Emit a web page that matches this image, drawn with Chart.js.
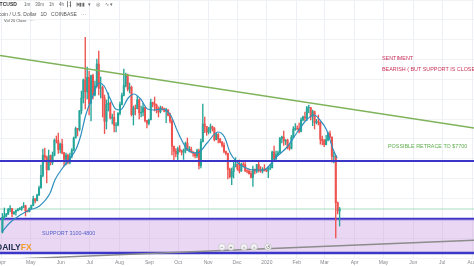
<!DOCTYPE html>
<html>
<head>
<meta charset="utf-8">
<title>BTCUSD daily</title>
<script src="https://cdn.jsdelivr.net/npm/chart.js@4.4.1/dist/chart.umd.min.js"></script>
<style>
  html, body { margin: 0; padding: 0; background: #fff; overflow: hidden; }
  canvas { display: block; }
</style>
</head>
<body>
<canvas id="chart" width="474" height="266"></canvas>
<script>
// time axis
const viewStart = '2019-03-30';
const viewEnd = '2020-08-03';
const monthStarts = ['2019-04-01', '2019-05-01', '2019-06-01', '2019-07-01', '2019-08-01', '2019-09-01',
    '2019-10-01', '2019-11-01', '2019-12-01', '2020-01-01', '2020-02-01', '2020-03-01', '2020-04-01',
    '2020-05-01', '2020-06-01', '2020-07-01', '2020-08-01'];
const monthLabels = ['Apr', 'May', 'Jun', 'Jul', 'Aug', 'Sep', 'Oct', 'Nov', 'Dec', '2020',
    'Feb', 'Mar', 'Apr', 'May', 'Jun', 'Jul', 'Aug'];

// candles, 2 days each, from 1 Apr 2019 (open = previous close)
const firstCandle = '2019-04-01';
const candleSpan = 2;
const firstOpen = 4140;
const closes = [4880, 4950, 5040, 5280, 5320, 5070, 5150, 5220, 5290, 5320, 5390, 5460, 5200, 5180, 5330,
    5470, 5800, 5720, 5990, 6350, 6980, 7990, 7880, 7260, 7960, 7620, 7990, 8740, 8720, 8270,
    8550, 8110, 7780, 7990, 7630, 7930, 8240, 8850, 9330, 9270, 10210, 10850, 11750, 11160, 11880,
    10580, 11970, 11000, 11460, 12550, 11340, 11370, 10850, 9690, 10530, 10590, 9850, 9880, 9480, 9500,
    10080, 10530, 10980, 11470, 11980, 11290, 11390, 10020, 10350, 10320, 10760, 10100, 10140, 10370, 9720,
    9590, 9760, 10620, 10560, 10490, 10320, 10160, 10360, 10300, 10190, 10270, 9980, 9700, 8440, 8190,
    8050, 8310, 8230, 8140, 8210, 8590, 8270, 8290, 8160, 8080, 7960, 8220, 7470, 8660, 9550,
    9430, 9150, 9300, 9410, 9340, 8770, 9030, 8800, 8630, 8490, 8170, 8080, 7280, 6910, 7170,
    7420, 7550, 7300, 7200, 7540, 7520, 7220, 7190, 7070, 6880, 7290, 7190, 7520, 7250, 7200,
    7300, 7220, 7200, 7340, 7360, 8150, 7820, 8020, 8110, 8820, 8900, 8700, 8740, 8390, 8330,
    8890, 9290, 9340, 9330, 9180, 9750, 9900, 9850, 10360, 10370, 9910, 10170, 9610, 9670, 9650,
    8790, 8710, 8520, 8760, 9070, 8900, 7930, 7940, 5620, 5200, 5300];
const highs = [5080, 5350, 5080, 5330, 5470, 5330, 5170, 5250, 5320, 5370, 5430, 5620, 5490, 5240, 5360,
    5500, 5950, 5830, 6050, 6450, 7500, 8300, 8350, 7950, 8250, 8000, 8150, 8800, 8950, 9090,
    8600, 8800, 8130, 8100, 8050, 8100, 8320, 8900, 9400, 9330, 10230, 11200, 11800, 13880, 12400,
    12200, 12000, 12050, 11700, 12800, 13200, 11900, 11450, 11000, 10750, 11100, 10650, 10050, 10200, 9620,
    10120, 10650, 11100, 12300, 12100, 12050, 11600, 11450, 10450, 10500, 10950, 10800, 10450, 10600, 10400,
    9720, 9800, 10800, 10650, 10900, 10550, 10400, 10450, 10420, 10350, 10330, 10230, 10100, 9800, 8450,
    8320, 8400, 8470, 8250, 8300, 8650, 8850, 8420, 8400, 8160, 8120, 8300, 8300, 8800, 10540,
    9900, 9430, 9380, 9550, 9450, 9380, 9100, 9070, 8830, 8680, 8610, 8200, 8100, 7350, 7350,
    7650, 7870, 7550, 7750, 7600, 7620, 7620, 7270, 7300, 7200, 7440, 7300, 7530, 7690, 7420,
    7370, 7520, 7330, 7400, 7500, 8200, 8450, 8200, 8190, 8880, 8950, 9190, 8770, 8790, 8520,
    8980, 9420, 9570, 9460, 9600, 9860, 9950, 10150, 10430, 10500, 10380, 10250, 10200, 9780, 10000,
    9650, 8950, 8780, 8980, 9150, 9200, 8900, 8150, 7970, 5650, 5380];
const lows = [4100, 4800, 4920, 5030, 5150, 4920, 5030, 4990, 5200, 5250, 5230, 5370, 4950, 5150, 5150,
    5300, 5450, 5600, 5700, 5980, 6350, 6900, 7650, 6600, 7250, 7500, 7520, 7950, 8600, 8080,
    8100, 8050, 7450, 7500, 7550, 7560, 7850, 8200, 8850, 8950, 9200, 10050, 10600, 10300, 10800,
    10000, 9700, 10800, 10950, 11400, 11000, 10850, 9900, 9070, 9300, 10200, 9800, 9550, 9150, 9150,
    9450, 10000, 10500, 10950, 11400, 11200, 11100, 9950, 9500, 10000, 10300, 9800, 9900, 9950, 9650,
    9350, 9500, 9750, 10400, 10200, 10100, 9900, 10100, 10250, 10150, 9620, 9950, 9600, 8000, 7750,
    7900, 7750, 8150, 8000, 7780, 8100, 8230, 8150, 8100, 7930, 7850, 7870, 7300, 7350, 8650,
    9120, 8980, 9050, 9100, 9200, 8700, 8750, 8600, 8600, 8400, 8100, 8000, 6800, 6850, 6520,
    6850, 7400, 7230, 7100, 7180, 7440, 7170, 7110, 7040, 6850, 6430, 7050, 7100, 7150, 7130,
    7100, 7200, 7160, 6870, 7270, 7350, 7770, 7680, 7990, 8100, 8600, 8480, 8520, 8300, 8240,
    8300, 8880, 9230, 9250, 9100, 9160, 9700, 9720, 9720, 10100, 9750, 9460, 9300, 9550, 9500,
    8540, 8500, 8420, 8500, 8700, 8850, 7640, 7600, 3850, 5050, 4450];

// moving average
const maDates = ['2019-04-01', '2019-04-09', '2019-04-20', '2019-04-30', '2019-05-10', '2019-05-21',
    '2019-05-26', '2019-06-03', '2019-06-11', '2019-06-17', '2019-06-22', '2019-06-27', '2019-07-04',
    '2019-07-11', '2019-07-16', '2019-07-22', '2019-07-28', '2019-08-02', '2019-08-10', '2019-08-16',
    '2019-08-23', '2019-08-30', '2019-09-06', '2019-09-14', '2019-09-23', '2019-10-01', '2019-10-11',
    '2019-10-21', '2019-10-31', '2019-11-11', '2019-11-18', '2019-11-24', '2019-12-01', '2019-12-08',
    '2019-12-19', '2019-12-29', '2020-01-04', '2020-01-11', '2020-01-22', '2020-02-01', '2020-02-11',
    '2020-02-19', '2020-02-25', '2020-03-03', '2020-03-10', '2020-03-14'];
const maValues = [4150, 4600, 5000, 5250, 5450, 6100, 6750, 7350, 7850, 8300, 9000, 10000, 10900,
    11600, 11450, 10850, 10300, 10250, 10850, 11050, 10800, 10300, 10250, 10300, 10000, 9100, 8250,
    8100, 8600, 9150, 8900, 8100, 7650, 7400, 7250, 7250, 7500, 7900, 8400, 9100, 9750,
    10000, 9750, 9250, 8250, 7850];

// drawn lines and levels
const trendDates = ['2019-03-30', '2020-08-03'];
const trendValues = [12970, 9350];
const baseDates = ['2019-03-30', '2020-08-03'];
const baseValues = [2770, 3740];
const retraceLevel = 7700;
const supportTop = 4800;
const supportBottom = 3100;

function dayOf(s) {
    return Math.round((Date.parse(s) - Date.parse(firstCandle)) / 86400000);
}

const xMin = dayOf(viewStart);
const xMax = dayOf(viewEnd);
const flat = v => [{ x: xMin, y: v }, { x: xMax, y: v }];
const pairs = (dates, values) => dates.map((d, i) => ({ x: dayOf(d), y: values[i] }));

const upColor = '#26a69a';
const downColor = '#ef5350';
const bodies = [];
const wicks = [];
const colours = [];
let open = firstOpen;
closes.forEach((close, i) => {
    const x = dayOf(firstCandle) + i * candleSpan + 0.5;
    bodies.push({ x: x, y: [open, close] });
    wicks.push({ x: x, y: [lows[i], highs[i]] });
    colours.push(close >= open ? upColor : downColor);
    open = close;
});
const lastClose = closes[closes.length - 1];

const notes = {
    id: 'notes',
    afterDraw(chart) {
        const { ctx, scales: { y } } = chart;
        const font = (size, bold) => (bold ? 'bold ' : '') + size + 'px "Liberation Sans", Arial, sans-serif';
        ctx.save();
        ctx.textBaseline = 'middle';

        // header
        ctx.fillStyle = '#333';
        ctx.font = font(5, true);
        ctx.fillText('BTCUSD', -4, 5);
        ctx.fillStyle = '#666';
        ctx.font = font(4.5);
        ctx.fillText('1m    30m    1h    4h    1    \u25BE', 24, 5);
        ctx.fillText('\u2503\u2503   \u2AFC \u25AE\u25AE  \u25BE    \u25CE    \u223F \u25BE', 66, 5);
        ctx.fillStyle = '#555';
        ctx.font = font(5);
        ctx.fillText('Bitcoin / U.S. Dollar   1D   COINBASE   \u00B7\u00B7\u00B7', -7, 15);
        ctx.font = font(4);
        ctx.fillText('Vol 20 Close   \u00B7\u00B7\u00B7', 4, 21);

        // commentary
        ctx.font = font(5.4);
        ctx.fillStyle = '#c8345a';
        ctx.fillText('SENTIMENT', 382, 59);
        ctx.fillText('BEARISH ( BUT SUPPORT IS CLOSE )', 382, 70);
        ctx.fillStyle = '#5fae4e';
        ctx.fillText('POSSIBLE RETRACE TO $7700', 388, y.getPixelForValue(retraceLevel) - 14);
        ctx.fillStyle = '#5560c8';
        ctx.fillText('SUPPORT 3100-4800', 42, (y.getPixelForValue(supportTop) + y.getPixelForValue(supportBottom)) / 2 - 2);

        // logo
        ctx.font = font(8.5, true);
        ctx.fillStyle = '#1d2b4c';
        ctx.fillText('DAILY', -4, 248);
        ctx.fillStyle = '#f29c2b';
        ctx.fillText('FX', -4 + ctx.measureText('DAILY').width, 248);

        // zoom buttons
        const glyphs = ['\u2212', '+', '\u2039', '\u203A', '\u21BA'];
        const bx = [222, 231, 244, 254, 268];
        ctx.font = font(5);
        ctx.textAlign = 'center';
        glyphs.forEach((g, i) => {
            ctx.beginPath();
            ctx.arc(bx[i], 247, 3.4, 0, Math.PI * 2);
            ctx.fillStyle = 'rgba(245,245,245,0.9)';
            ctx.fill();
            ctx.strokeStyle = '#b8b8b8';
            ctx.lineWidth = 0.6;
            ctx.stroke();
            ctx.fillStyle = '#666';
            ctx.fillText(g, bx[i], 247.3);
        });
        ctx.restore();
    }
};

const ctx = document.getElementById('chart').getContext('2d');

new Chart(ctx, {
    type: 'bar',
    data: {
        datasets: [
            {
                type: 'line', data: flat(supportTop), borderColor: '#3a36c8', borderWidth: 2.4,
                pointRadius: 0, fill: false, order: 9
            },
            {
                type: 'line', data: flat(supportBottom), borderColor: '#3a36c8', borderWidth: 2.4,
                pointRadius: 0, fill: '-1', backgroundColor: 'rgba(200, 155, 225, 0.4)', order: 8
            },
            {
                type: 'line', data: flat(lastClose), borderColor: '#a8dcc0', borderWidth: 1,
                pointRadius: 0, order: 7
            },
            {
                type: 'bar', data: wicks, backgroundColor: colours, barThickness: 0.7,
                grouped: false, order: 6
            },
            {
                type: 'bar', data: bodies, backgroundColor: colours, barThickness: 1.4,
                grouped: false, order: 5
            },
            {
                type: 'line', data: pairs(maDates, maValues), borderColor: '#2e8fbe', borderWidth: 1.2,
                pointRadius: 0, cubicInterpolationMode: 'monotone', order: 4
            },
            {
                type: 'line', data: flat(retraceLevel), borderColor: '#3a36c8', borderWidth: 2.2,
                pointRadius: 0, order: 3
            },
            {
                type: 'line', data: pairs(trendDates, trendValues), borderColor: '#7fb35a', borderWidth: 1.5,
                pointRadius: 0, order: 2
            },
            {
                type: 'line', data: pairs(baseDates, baseValues), borderColor: '#8c8c8c', borderWidth: 1.5,
                pointRadius: 0, order: 1
            }
        ]
    },
    options: {
        responsive: false,
        devicePixelRatio: 1,
        animation: false,
        layout: { padding: 0 },
        plugins: {
            legend: { display: false },
            tooltip: { enabled: false }
        },
        scales: {
            x: {
                type: 'linear',
                min: xMin,
                max: xMax,
                offset: false,
                grid: { color: '#edf0f4', offset: false, drawTicks: false },
                border: { display: false },
                afterBuildTicks: scale => {
                    scale.ticks = monthStarts.map(d => ({ value: dayOf(d) }));
                },
                afterFit: scale => {
                    scale.height = 8;
                    scale.paddingLeft = 0;
                    scale.paddingRight = 0;
                },
                ticks: {
                    autoSkip: false,
                    maxRotation: 0,
                    padding: 2,
                    color: '#888',
                    font: { size: 5, family: '"Liberation Sans", Arial, sans-serif' },
                    callback: (value, index) => monthLabels[index]
                }
            },
            y: {
                position: 'right',
                min: 2850,
                max: 15750,
                grid: { color: '#f0f2f6', drawTicks: false },
                border: { display: false },
                ticks: { display: false, stepSize: 1000 },
                afterFit: scale => { scale.width = 0; }
            }
        }
    },
    plugins: [notes]
});
</script>
</body>
</html>
